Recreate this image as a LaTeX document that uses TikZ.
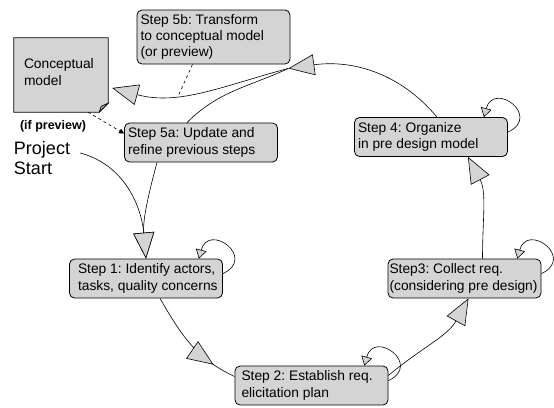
\documentclass[tikz,border=0pt]{standalone}
\usepackage{fontspec}
\setmainfont{Liberation Sans}
\usepackage{xcolor}
\usetikzlibrary{arrows.meta, positioning, calc, decorations.markings}
\definecolor{boxgray}{RGB}{212,212,212}
\newcommand{\boxfont}{\fontsize{13.8}{16.3}\selectfont\frenchspacing}
\tikzset{
	stepbox/.style={rectangle, draw, thick, fill=boxgray, rounded corners=5pt, text width=146pt, inner xsep=3.5pt, inner ysep=3pt, minimum height=39pt, align=flush left, font=\boxfont},
	flow/.style={draw, semithick, -{Triangle[length=26pt, width=21pt, fill=boxgray]}},
	midflow/.style={draw, semithick, postaction={decorate}, decoration={markings, mark=at position 0.78 with {\arrow{Triangle[length=26pt, width=21pt, fill=boxgray]}}}},
	selfloop/.style={draw, semithick, -{Triangle[length=9pt, width=11pt, fill=boxgray]}}
}

\begin{document}
\begin{tikzpicture}[
	% one unit is one pixel of the layout
	x=1pt, y=1pt,
	node distance=1.5cm and 2.5cm
	]
	\useasboundingbox (0,0) rectangle (554,-407);
	
	% === NODES ===
	% The steps of the cycle, then the model and the start label.
	
	\node[stepbox, minimum height=54pt] (s5b) at (213.5,-37) {Step 5b: Transform\\to conceptual model\\(or preview)};
	\node[stepbox] (s5a) at (201,-142.5) {Step 5a: Update and\\refine previous steps};
	\node[stepbox, text width=144pt, inner xsep=4.5pt] (s1) at (146,-278.5) {\hspace*{4pt}Step 1: Identify actors,\\\hspace*{4pt}tasks, quality concerns};
	\node[stepbox] (s2) at (311.5,-385.5) {\hspace*{3pt}Step 2: Establish req.\\\hspace*{3pt}elicitation plan};
	\node[stepbox, text width=150pt, inner xsep=1.5pt] (s3) at (464.5,-278.5) {Step3: Collect req.\\(considering pre design)};
	\node[stepbox] (s4) at (431,-137) {Step 4: Organize\\in pre design model};
	
	\node[fill=boxgray, minimum width=94pt, minimum height=74pt, text width=74pt, inner xsep=10pt, align=flush left, font=\boxfont] (concept) at (61,-75) {Conceptual\\model\vspace*{6pt}};
	\node[font=\bfseries\fontsize{12.5}{15}\selectfont] (ifprev) at (53,-126) {(if preview)};
	\node[font=\fontsize{18}{20}\selectfont, align=left, inner sep=2pt] (start) at (42,-158) {Project\\Start};
	
	% folded corner of the model sheet
	\fill[white] ([xshift=-9pt]concept.south east) -- (concept.south east) -- ([yshift=9pt]concept.south east) -- cycle;
	\draw[thick] (concept.north west) -- (concept.north east) -- ([yshift=9pt]concept.south east) -- ([xshift=-9pt]concept.south east) -- (concept.south west) -- cycle;
	\draw[semithick, fill=gray!70] ([xshift=-9pt]concept.south east) -- ([yshift=9pt]concept.south east) -- ([shift={(-7pt,6pt)}]concept.south east) -- cycle;
	
	\coordinate (hub) at ([shift={(-2pt,-4pt)}]s5b.south east);
	
	% === CONNECTIONS ===
	% The cycle, from the start round to step 5.
	
	\draw[flow] ([shift={(8pt,5pt)}]start.east) to[out=-15, in=95] (s1.north);
	\draw[flow] ([xshift=-44pt]s5a.south) to[out=-105, in=95] (s1.north);
	\draw[midflow] ([xshift=14pt]s1.south) to[out=-60, in=155] ([yshift=9pt]s2.west);
	\draw[flow] ([yshift=10pt]s2.east) to[out=40, in=-119] ([xshift=4pt]s3.south);
	\draw[flow] ([xshift=18pt]s3.north) to[out=90, in=-62] ([xshift=37pt]s4.south);
	\draw[flow] ([xshift=6pt]s4.north) to[out=130, in=8] (hub);
	\draw[flow] (hub) to[out=195, in=-15] coordinate[pos=0.63] (onflow) ([shift={(4pt,-13pt)}]concept.east);
	\draw[semithick] (hub) to[out=205, in=45] ([xshift=-14pt]s5a.north);
	
	% notes
	\draw[semithick, dashed] ([xshift=-21pt]s5b.south) -- (onflow);
	\draw[semithick, dashed, -{Triangle[length=5pt, width=5pt]}] ([xshift=27pt]concept.south) -- ([yshift=9pt]s5a.west);
	
	% self loops
	\foreach \s in {s1,s2,s3,s4}
		\draw[selfloop] ([yshift=-15pt]\s.north east) to[out=25, in=75, looseness=3.4] ([xshift=-24pt]\s.north east);
\end{tikzpicture}
\end{document}
